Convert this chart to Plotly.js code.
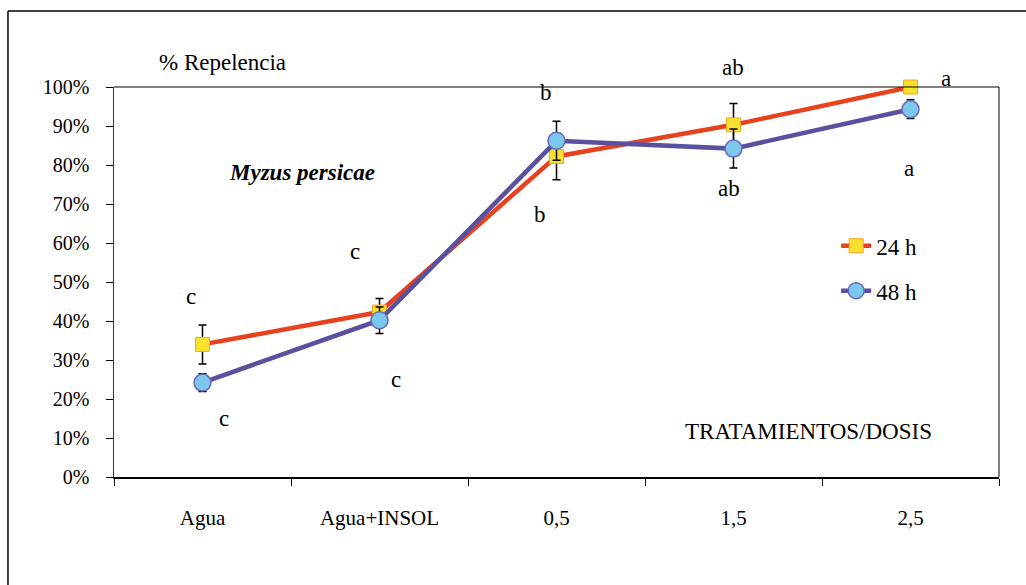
<!DOCTYPE html>
<html>
<head>
<meta charset="utf-8">
<script src="https://cdn.plot.ly/plotly-3.0.1.min.js"></script>
<style>html,body{margin:0;padding:0;background:#fff;}#chart{width:1026px;height:585px;}</style>
</head>
<body>
<div id="chart"></div>
<script>
const categories = ["Agua", "Agua+INSOL", "0,5", "1,5", "2,5"];
const values24 = [34, 42.3, 82.2, 90.3, 100];
const err24 = [5, 3.5, 6, 5.5, 0];
const values48 = [24.2, 40.2, 86.2, 84.2, 94.3];
const err48 = [2.3, 3.4, 5, 5, 2.4];
const seriesNames = ["24 h", "48 h"];
const yTickVals = [0, 10, 20, 30, 40, 50, 60, 70, 80, 90, 100];
const yTickText = ["0%", "10%", "20%", "30%", "40%", "50%", "60%", "70%", "80%", "90%", "100%"];
const letterText = ["c", "c", "c", "c", "b", "b", "ab", "ab", "a", "a"];
const letterX = [-0.065, 0.121, 0.862, 1.093, 1.94, 1.907, 2.997, 2.975, 4.20, 3.99];
const letterY = [46.2, 14.9, 57.7, 25.1, 98.7, 67.4, 104.9, 74.1, 102.3, 79.0];

const serif = "Liberation Serif";

const trace24 = {
  x: categories, y: values24, name: seriesNames[0], type: "scatter", mode: "lines+markers",
  legendgroup: "g1", cliponaxis: false,
  line: {color: "#E8411D", width: 4.5},
  marker: {symbol: "square", size: 14, color: "#FBE12F", line: {color: "#F5A623", width: 1}},
  error_y: {type: "data", array: err24, visible: true, color: "#000", thickness: 1.5, width: 4}
};
const trace48 = {
  x: categories, y: values48, name: seriesNames[1], type: "scatter", mode: "lines+markers",
  legendgroup: "g2", cliponaxis: false,
  line: {color: "#5A50A0", width: 4.5},
  marker: {symbol: "circle", size: 17, color: "#7CC7EE", line: {color: "#6A66B8", width: 1.5}},
  error_y: {type: "data", array: err48, visible: true, color: "#000", thickness: 1.5, width: 4}
};

const annotations = letterText.map((t, i) => ({
  x: letterX[i], y: letterY[i] / 100, xref: "x", yref: "paper", text: t, showarrow: false,
  xanchor: "center", yanchor: "middle", font: {family: serif, size: 23, color: "#000"}
}));
annotations.push({x: 0.123, y: 1.064, xref: "paper", yref: "paper", text: "% Repelencia",
  showarrow: false, xanchor: "center", yanchor: "middle", font: {family: serif, size: 23, color: "#000"}});
annotations.push({x: 0.2124, y: 0.782, xref: "paper", yref: "paper", text: "<b><i>Myzus persicae</i></b>",
  showarrow: false, xanchor: "center", yanchor: "middle", font: {family: serif, size: 23, color: "#000"}});
annotations.push({x: 0.785, y: 0.1154, xref: "paper", yref: "paper", text: "TRATAMIENTOS/DOSIS",
  showarrow: false, xanchor: "center", yanchor: "middle", font: {family: serif, size: 23, color: "#000"}});

const layout = {
  width: 1026, height: 585,
  margin: {l: 114, r: 27, t: 87, b: 108},
  paper_bgcolor: "#fff", plot_bgcolor: "#fff",
  font: {family: serif, color: "#000"},
  showlegend: true,
  legend: {x: 0.8160, y: 0.648, xanchor: "left", yanchor: "top", bgcolor: "rgba(0,0,0,0)",
    font: {family: serif, size: 23, color: "#000"}, traceorder: "grouped", tracegroupgap: 12},
  xaxis: {type: "category", range: [-0.5, 4.5], tickson: "boundaries", ticks: "outside", ticklen: 7,
    tickcolor: "#000", tickwidth: 1, showline: true, linecolor: "#000", linewidth: 2,
    showgrid: false, zeroline: false, ticklabelstandoff: 21,
    tickfont: {family: serif, size: 21, color: "#000"}},
  yaxis: {range: [0, 100], tickmode: "array", tickvals: yTickVals, ticktext: yTickText, ticks: "outside", ticklen: 7,
    tickcolor: "#000", tickwidth: 1, showline: true, linecolor: "#333", linewidth: 1.5,
    showgrid: false, zeroline: false, ticklabelstandoff: 12,
    tickfont: {family: serif, size: 20, color: "#000"}},
  annotations: annotations,
  shapes: [
    {type: "line", xref: "paper", yref: "paper", x0: 0, x1: 1, y0: 1, y1: 1, line: {color: "#000", width: 1}},
    {type: "line", xref: "paper", yref: "paper", x0: 1, x1: 1, y0: 0, y1: 1, line: {color: "#000", width: 1}},
    {type: "line", xref: "paper", yref: "paper", x0: -0.1198, x1: -0.1198, y0: -0.35, y1: 1.1949, line: {color: "#000", width: 1.5}},
    {type: "line", xref: "paper", yref: "paper", x0: -0.1198, x1: 1.2, y0: 1.1949, y1: 1.1949, line: {color: "#000", width: 1.5}}
  ]
};

Plotly.newPlot("chart", [trace24, trace48], layout, {displayModeBar: false, staticPlot: true});
</script>
</body>
</html>
